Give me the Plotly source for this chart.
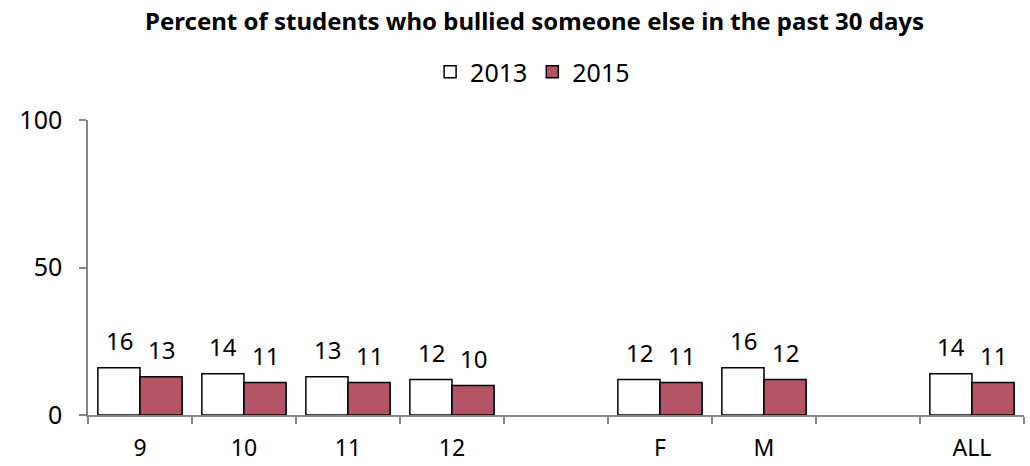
import plotly.graph_objects as go

# categories (blank slots act as spacers between groups)
categorias = ['9', '10', '11', '12', ' ', 'F', 'M', '  ', 'ALL']
valores_2013 = [16, 14, 13, 12, None, 12, 16, None, 14]
valores_2015 = [13, 11, 11, 10, None, 11, 12, None, 11]

fonte = 'Noto Sans'
cinza = '#868686'
meia_barra = 21  # px, half width of one bar

fig = go.Figure()
fig.add_trace(go.Bar(
    x=categorias, y=valores_2013, name='2013',
    marker=dict(color='white', line=dict(color='black', width=1.5)),
))
fig.add_trace(go.Bar(
    x=categorias, y=valores_2015, name='2015',
    marker=dict(color='#B35465', line=dict(color='black', width=1.5)),
))

# rótulos de dados acima das barras (x = índice da categoria)
for valores, desloc in [(valores_2013, -meia_barra), (valores_2015, meia_barra)]:
    for i, v in enumerate(valores):
        if v is None:
            continue
        fig.add_annotation(x=i, y=v, text=str(v), showarrow=False,
                           xshift=desloc, yshift=27, font=dict(size=24, color='black'))

fig.update_layout(
    width=1030, height=466,
    font=dict(family=fonte, color='black'),
    title=dict(text='<b>Percent of students who bullied someone else in the past 30 days</b>',
               x=0.519, xanchor='center', y=1 - 22 / 466, yanchor='middle',
               font=dict(size=24, family=fonte)),
    legend=dict(orientation='h', x=0.475, xanchor='center', y=1 + 48 / 295, yanchor='middle',
                font=dict(size=25), itemwidth=30, traceorder='normal'),
    barmode='group', bargap=0.19, bargroupgap=0,
    plot_bgcolor='white', paper_bgcolor='white',
    margin=dict(l=88, r=6, t=120, b=51),
)
fig.update_xaxes(
    type='category', categoryorder='array', categoryarray=categorias,
    range=[-0.5, len(categorias) - 0.5],
    showline=True, linecolor=cinza, linewidth=1.5,
    ticks='outside', tickson='boundaries', ticklen=7, tickcolor=cinza, tickwidth=1.5,
    tickfont=dict(size=23), showgrid=False, ticklabelstandoff=12, automargin=False,
)
fig.update_yaxes(
    range=[0, 100], tickvals=[0, 50, 100],
    showline=True, linecolor=cinza, linewidth=1.5,
    ticks='outside', ticklen=7, tickcolor=cinza, tickwidth=1.5,
    tickfont=dict(size=25), showgrid=False, zeroline=False,
    ticklabelstandoff=12, automargin=False,
)

fig.write_html('out.html', config={'displayModeBar': False},
               post_script="document.body.style.margin='0';")
